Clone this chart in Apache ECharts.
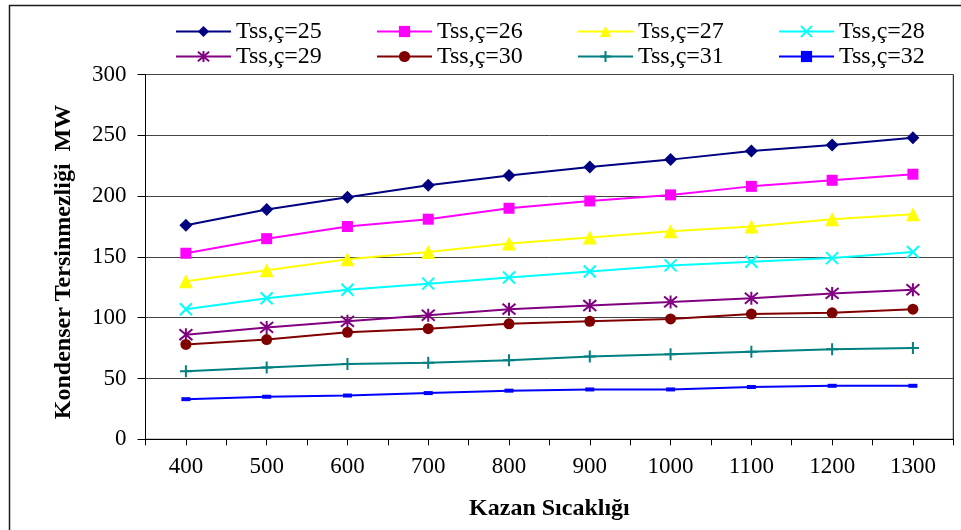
<!DOCTYPE html>
<html>
<head>
<meta charset="utf-8">
<script src="https://cdn.jsdelivr.net/npm/echarts@6/dist/echarts.min.js"></script>
<style>
  html, body { margin: 0; padding: 0; background: #fff; }
  #chart { width: 961px; height: 530px; }
</style>
</head>
<body>
<div id="chart"></div>
<script>
// Boiler temperature (x) and condenser irreversibility in MW for each Tss,ç value
const kazanSicakligi = [400, 500, 600, 700, 800, 900, 1000, 1100, 1200, 1300];
const tss25 = [176, 189, 199, 209, 217, 224, 230, 237, 242, 248];
const tss26 = [153, 165, 175, 181, 190, 196, 201, 208, 213, 218];
const tss27 = [130, 139, 148, 154, 161, 166, 171, 175, 181, 185];
const tss28 = [107, 116, 123, 128, 133, 138, 143, 146, 149, 154];
const tss29 = [86, 92, 97, 102, 107, 110, 113, 116, 120, 123];
const tss30 = [78, 82, 88, 91, 95, 97, 99, 103, 104, 107];
const tss31 = [56, 59, 62, 63, 65, 68, 70, 72, 74, 75];
const tss32 = [33, 35, 36, 38, 40, 41, 41, 43, 44, 44];
const yTicks = [0, 50, 100, 150, 200, 250, 300];

const FONT = '"Liberation Serif", "Times New Roman", serif';

const pairs = vals => kazanSicakligi.map((x, i) => [x, vals[i]]);

const seriesDefs = [
  { name: 'Tss,ç=25', data: tss25, color: '#000080', symbol: 'diamond', size: 13 },
  { name: 'Tss,ç=26', data: tss26, color: '#FF00FF', symbol: 'rect', size: 11 },
  { name: 'Tss,ç=27', data: tss27, color: '#FFFF00', symbol: 'triangle', size: 14 },
  { name: 'Tss,ç=28', data: tss28, color: '#00FFFF', symbol: 'path://M0,0L10,10M10,0L0,10', size: 12, stroke: true },
  { name: 'Tss,ç=29', data: tss29, color: '#800080', symbol: 'path://M0,1L10,11M10,1L0,11M5,0L5,12', size: 13, stroke: true },
  { name: 'Tss,ç=30', data: tss30, color: '#800000', symbol: 'circle', size: 11 },
  { name: 'Tss,ç=31', data: tss31, color: '#008080', symbol: 'path://M5,0L5,10M0,5L10,5', size: 12, stroke: true },
  { name: 'Tss,ç=32', data: tss32, color: '#0000FF', symbol: 'rect', size: [9, 4] }
];

const series = seriesDefs.map(d => ({
  name: d.name,
  type: 'line',
  data: pairs(d.data),
  symbol: d.symbol,
  symbolSize: d.size,
  showAllSymbol: true,
  lineStyle: { color: d.color, width: 2 },
  itemStyle: d.stroke
    ? { color: d.color, borderColor: d.color, borderWidth: 2 }
    : { color: d.color, borderWidth: 0 },
  emphasis: { disabled: true },
  z: 3
}));

const chart = echarts.init(document.getElementById('chart'), null, { renderer: 'canvas' });
chart.setOption({
  animation: false,
  backgroundColor: '#fff',
  textStyle: { fontFamily: FONT },
  graphic: [{
    type: 'rect',
    shape: { x: 9.5, y: 5.5, width: 1000, height: 600 },
    style: { fill: 'none', stroke: '#1a1a1a', lineWidth: 1.5 },
    silent: true, z: -10
  }, {
    // vertical axis title
    type: 'text',
    x: 64,
    y: 262,
    rotation: Math.PI / 2,
    silent: true,
    style: {
      text: 'Kondenser Tersinmezliği  MW',
      font: 'bold 24px ' + FONT,
      fill: '#000',
      align: 'center',
      verticalAlign: 'middle'
    }
  }],
  legend: {
    left: 175,
    top: 19,
    width: 820,
    itemWidth: 55,
    itemHeight: 14,
    itemGap: 0,
    padding: 0,
    selectedMode: false,
    textStyle: { fontFamily: FONT, fontSize: 24, color: '#000', width: 140, lineHeight: 25 },
    data: seriesDefs.map(d => d.name)
  },
  grid: {
    left: 145.5,
    right: 7.7,
    top: 74.5,
    bottom: 90.7,
    show: true,
    borderColor: '#000',
    borderWidth: 1,
    containLabel: false
  },
  xAxis: {
    type: 'value',
    min: 350,
    max: 1350,
    interval: 50,
    name: 'Kazan Sıcaklığı',
    nameLocation: 'middle',
    nameGap: 57,
    nameTextStyle: { fontFamily: FONT, fontSize: 24, fontWeight: 'bold', color: '#000' },
    axisLine: { show: true, lineStyle: { color: '#000', width: 1 } },
    axisTick: { show: true, inside: false, length: 6, lineStyle: { color: '#000' } },
    splitLine: { show: false },
    axisLabel: {
      margin: 16,
      fontFamily: FONT,
      fontSize: 23,
      color: '#000',
      showMinLabel: true,
      showMaxLabel: true,
      formatter: v => (v % 100 === 0 && kazanSicakligi.includes(v)) ? String(v) : ''
    }
  },
  yAxis: {
    type: 'value',
    min: yTicks[0],
    max: yTicks[yTicks.length - 1],
    interval: 50,
    axisLine: { show: true, lineStyle: { color: '#000', width: 1 } },
    axisTick: { show: true, inside: false, length: 8, lineStyle: { color: '#000' } },
    splitLine: { show: true, lineStyle: { color: '#444', width: 1 } },
    axisLabel: { margin: 19, fontFamily: FONT, fontSize: 23, color: '#000' }
  },
  series: series
});
</script>
</body>
</html>
